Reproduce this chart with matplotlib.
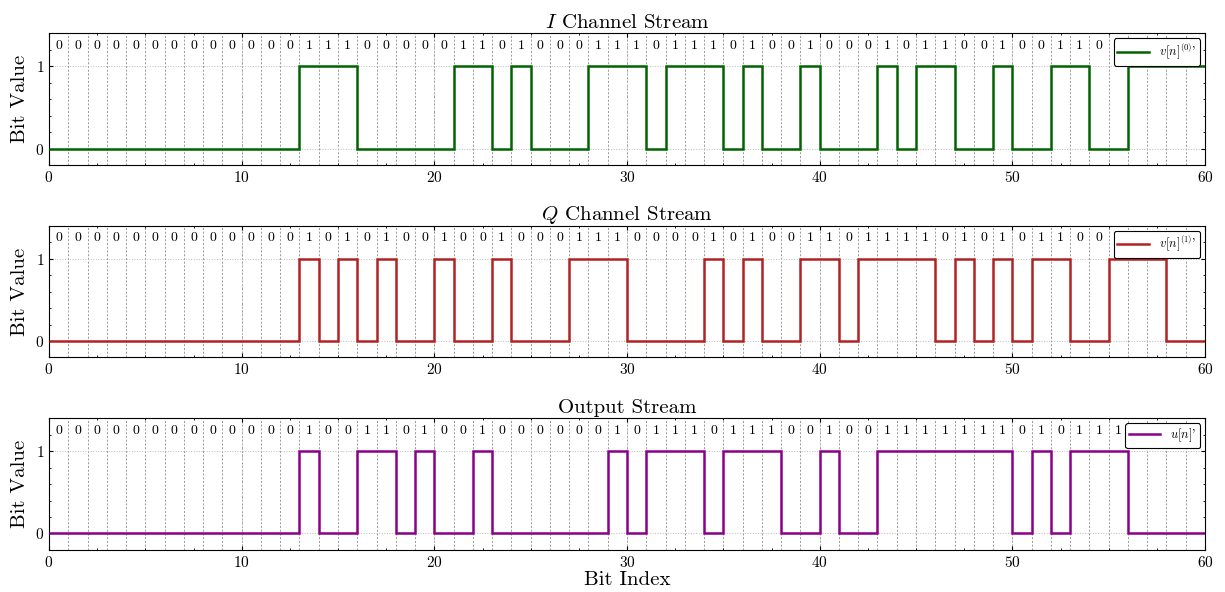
import numpy as np
import matplotlib
matplotlib.use("Agg")
import matplotlib.pyplot as plt
from matplotlib.ticker import MultipleLocator, AutoMinorLocator

plt.rcParams.update({
    "font.family": "serif",
    "font.serif": ["cmr10"],
    "mathtext.fontset": "cm",
    "axes.formatter.use_mathtext": True,
    "xtick.direction": "in",
    "ytick.direction": "in",
    "xtick.top": True,
    "ytick.right": True,
    "xtick.major.size": 3,
    "ytick.major.size": 3,
    "xtick.minor.size": 1.5,
    "ytick.minor.size": 1.5,
    "xtick.minor.visible": True,
    "ytick.minor.visible": True,
    "axes.linewidth": 0.8,
})

i_bits = [0]*13 + [1, 1, 1, 0, 0, 0, 0, 0, 1, 1, 0, 1, 0, 0, 0, 1, 1, 1, 0, 1, 1, 1, 0,
                   1, 0, 0, 1, 0, 0, 0, 1, 0, 1, 1, 0, 0, 1, 0, 0, 1, 1, 0, 0, 1, 1, 1, 1]
q_bits = [0]*13 + [1, 0, 1, 0, 1, 0, 0, 1, 0, 0, 1, 0, 0, 0, 1, 1, 1, 0, 0, 0, 0, 1, 0,
                   1, 0, 0, 1, 1, 0, 1, 1, 1, 1, 0, 1, 0, 1, 0, 1, 1, 0, 0, 1, 1, 1, 0, 0]
u_bits = [0]*13 + [1, 0, 0, 1, 1, 0, 1, 0, 0, 1, 0, 0, 0, 0, 0, 0, 1, 0, 1, 1, 1, 0, 1,
                   1, 1, 0, 0, 1, 0, 0, 1, 1, 1, 1, 1, 1, 1, 0, 1, 0, 1, 1, 1, 0, 0, 0, 0]

titles = [r"$I$ Channel Stream", r"$Q$ Channel Stream", "Output Stream"]
legend_labels = [r"$v[n]^{(0)}$'", r"$v[n]^{(1)}$'", r"$u[n]$'"]
colors = ["#006400", "#b22222", "#8b008b"]
series = [i_bits, q_bits, u_bits]

fig, axes = plt.subplots(3, 1, figsize=(12.25, 5.92), dpi=100)
fig.subplots_adjust(left=0.040, right=0.9837, top=0.944, bottom=0.071, hspace=0.46)

for ax, bits, title, lab, col in zip(axes, series, titles, legend_labels, colors):
    n = len(bits)
    edges = np.arange(n + 1)
    for k in range(1, n):
        ax.axvline(k, color="#666666", linestyle=(0, (2.5, 2.0)), linewidth=0.6, alpha=0.75, zorder=1)
    ax.grid(True, linestyle=":", color="#bbbbbb", linewidth=0.7, zorder=0)
    ax.stairs(bits, edges, baseline=None, color=col, linewidth=1.8, label=lab, zorder=3)
    for k, b in enumerate(bits):
        ax.text(k + 0.5, 1.25, str(b), ha="center", va="center", fontsize=10, zorder=2)
    ax.set_xlim(0, n)
    ax.set_ylim(-0.2, 1.4)
    ax.set_yticks([0, 1])
    ax.xaxis.set_major_locator(MultipleLocator(10))
    ax.xaxis.set_minor_locator(AutoMinorLocator(4))
    ax.yaxis.set_minor_locator(AutoMinorLocator(5))
    ax.tick_params(labelsize=11)
    ax.set_ylabel("Bit Value", fontsize=15)
    ax.set_title(title, fontsize=15, pad=4)
    leg = ax.legend(loc="upper right", fontsize=9, framealpha=1.0, edgecolor="black",
                    fancybox=True, borderaxespad=0.4, borderpad=0.3, handlelength=2.5)
    leg.get_frame().set_linewidth(0.8)
    leg.set_zorder(5)

axes[-1].set_xlabel("Bit Index", fontsize=15, labelpad=1)

fig.savefig("out.png", dpi=100)
